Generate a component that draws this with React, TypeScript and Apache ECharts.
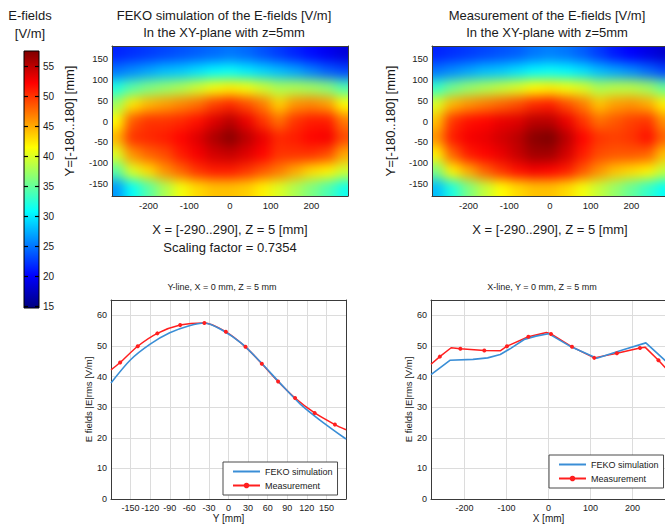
import React, { useEffect, useRef } from "react";
import * as echarts from "echarts";

const FONT = '"Liberation Sans", Arial, Helvetica, sans-serif';
const INK = "#1a1a1a";

// Colour scale of both field maps [V/m]
const fieldMin = 14.7;
const fieldMax = 57.5;
const colorbarTicks = [15, 20, 25, 30, 35, 40, 45, 50, 55];
const jet = ["#00007f", "#0000ff", "#007fff", "#00ffff", "#7fff7f", "#ffff00", "#ff7f00", "#ff0000", "#7f0000"];

// Sample grid of the E-field maps in the XY-plane, z = 5 mm [mm]
const fieldX = [-280, -240, -200, -160, -120, -80, -40, 0, 40, 80, 120, 160, 200, 240, 280];
const fieldY = [160, 120, 80, 40, 0, -40, -80, -120, -160];

// FEKO simulation, |E| [V/m], one row per fieldY
const simField = [
  [21.5, 22, 22.5, 23, 23.5, 24, 24.5, 25, 24.5, 23.5, 22.5, 21.5, 20.5, 19.5, 18.5],
  [25, 26, 27, 28, 28.5, 29.5, 30.5, 31, 30, 29, 28, 27, 25.5, 24, 23],
  [32, 34.5, 36, 37, 38, 39.5, 41, 42, 41, 39.5, 38, 38, 37.5, 36.5, 34],
  [37.5, 42.5, 44.5, 45.5, 46.5, 47.5, 49.5, 50.5, 49, 47, 43.5, 46, 46.5, 45.5, 41.5],
  [41.5, 48.5, 50, 50, 50.5, 51.5, 53.5, 55, 53, 50, 47.5, 50, 51, 51, 47],
  [44.5, 50, 50.5, 51, 52, 53.5, 55.5, 57, 55, 53, 50.5, 51, 52, 52.5, 49],
  [40, 46, 48, 49, 51, 52.5, 54, 54.5, 53.5, 52, 50, 50, 50, 49, 45],
  [34.5, 40, 43, 46, 48, 50, 51, 51, 50, 48.5, 47, 45, 43, 42, 39.5],
  [26.5, 31, 34.5, 38, 41, 43, 44, 44, 43.5, 42, 40, 38, 36, 34, 31.5],
];

// Measurement, |E| [V/m], one row per fieldY
const measField = [
  [21.5, 22, 22.5, 23, 23.5, 24, 25, 25.5, 25, 24, 22.5, 21, 20, 19, 18],
  [25, 26, 27, 28, 28.5, 29.5, 30.5, 31, 30.5, 29.5, 28, 27, 26, 24.5, 23],
  [33, 35.5, 37, 38, 39, 40, 41.5, 42, 41, 40, 38, 38.5, 38.5, 37.5, 35],
  [40, 44.5, 46, 47, 48, 49, 50.5, 51, 49, 47, 44, 45.5, 46, 45, 42],
  [44, 50, 51.5, 52, 53, 53.5, 55, 55, 53, 50, 47.5, 48.5, 49.5, 50, 46],
  [46, 51, 52.5, 53, 54, 55, 57, 57.5, 55, 52, 50, 49.5, 50, 51.5, 48],
  [42, 48, 51, 52, 53, 54.5, 56, 56, 54, 51, 49, 48.5, 48.5, 48, 44],
  [36, 42, 45, 48, 50, 51.5, 52.5, 52, 51, 48.5, 46, 44, 43, 42, 39],
  [28, 32, 36, 39, 41.5, 43, 44, 44, 43, 41, 39, 37, 35, 33, 31],
];

const mapXTicks = [-200, -100, 0, 100, 200];
const mapYTicks = [-150, -100, -50, 0, 50, 100, 150];
const scalingFactor = 0.7354;

// Y-line, X = 0 mm, Z = 5 mm
const yLineSimPos = [-180, -150, -120, -90, -60, -37, -10, 20, 50, 80, 110, 140, 180];
const yLineSimE = [37.9, 45.5, 50.6, 54.3, 56.6, 57.5, 55.2, 50.8, 44.5, 37.6, 31.0, 25.8, 19.6];
const yLineMeasPos = [-180, -166, -139, -109, -74, -37, -4, 26, 51, 76, 102, 132, 163, 180];
const yLineMeasE = [42.2, 44.6, 49.9, 54.1, 56.8, 57.5, 54.6, 49.7, 44.2, 38.4, 33.0, 28.1, 24.3, 22.6];
const yLineMeasSampled = [false, true, true, true, true, true, true, true, true, true, true, true, true, false];

// X-line, Y = 0 mm, Z = 5 mm
const xLineSimPos = [-280, -235, -180, -145, -115, -90, -58, -30, 0, 50, 115, 180, 232, 280];
const xLineSimE = [40.6, 45.3, 45.6, 46.1, 47.2, 49.2, 52.1, 53.2, 54.0, 50.0, 46.0, 48.8, 51.0, 45.0];
const xLineMeasPos = [-280, -259, -232, -210, -153, -115, -99, -48, -5, 6, 56, 109, 163, 218, 230, 262, 280];
const xLineMeasE = [44.0, 46.5, 49.4, 49.1, 48.5, 48.4, 49.9, 53.0, 54.4, 53.9, 49.7, 46.1, 47.6, 49.3, 49.6, 45.3, 42.6];
const xLineMeasSampled = [false, true, false, true, true, false, true, true, false, true, true, true, true, true, false, true, false];

const seriesNames = ["FEKO simulation", "Measurement"];

// ---- layout ----
const CB = { left: 24, top: 51, width: 15, height: 257 };
const MAP_L = { left: 112, top: 46, width: 236, height: 150 };
const MAP_R = { left: 432, top: 46, width: 236, height: 150 };
const LINE_L = { left: 111, top: 300, width: 235, height: 199 };
const LINE_R = { left: 431, top: 300, width: 235, height: 199 };
const PAD = 30;
const SOFTEN = 6;
const BLUE = "#3a8ed6";
const RED = "#ff1f1f";
const FRAME = "#3a3a3a";

function FieldMap({ rect, values }: { rect: typeof MAP_L; values: number[][] }) {
  const ref = useRef<HTMLDivElement>(null);
  useEffect(() => {
    const chart = echarts.init(ref.current!, null, { renderer: "svg" });
    const data: number[][] = [];
    fieldY.forEach((y, r) => fieldX.forEach((x, c) => data.push([x, y, values[r][c]])));
    const hx = (fieldX[1] - fieldX[0]) / 2;
    const hy = (fieldY[0] - fieldY[1]) / 2;
    chart.setOption({
      animation: false,
      backgroundColor: "transparent",
      grid: { left: PAD, top: PAD, width: rect.width, height: rect.height },
      xAxis: { type: "value", min: -290, max: 290, show: false },
      yAxis: { type: "value", min: -180, max: 180, show: false },
      visualMap: {
        show: false,
        type: "continuous",
        min: fieldMin,
        max: fieldMax,
        dimension: 2,
        seriesIndex: 0,
        inRange: { color: jet },
      },
      series: [
        {
          type: "custom",
          clip: false,
          data,
          encode: { x: 0, y: 1 },
          renderItem: (_p: any, api: any) => {
            const x = api.value(0);
            const y = api.value(1);
            const a = api.coord([x - hx, y + hy]);
            const b = api.coord([x + hx, y - hy]);
            let x0 = a[0], y0 = a[1], x1 = b[0], y1 = b[1];
            if (x === fieldX[0]) x0 -= PAD;
            if (x === fieldX[fieldX.length - 1]) x1 += PAD;
            if (y === fieldY[0]) y0 -= PAD;
            if (y === fieldY[fieldY.length - 1]) y1 += PAD;
            return {
              type: "rect",
              shape: { x: x0, y: y0, width: x1 - x0 + 0.7, height: y1 - y0 + 0.7 },
              style: { fill: api.visual("color") },
            };
          },
        },
      ],
    });
    return () => chart.dispose();
  }, []);
  return (
    <div
      style={{
        position: "absolute",
        left: rect.left,
        top: rect.top,
        width: rect.width,
        height: rect.height,
        overflow: "hidden",
      }}
    >
      <div
        ref={ref}
        style={{
          position: "absolute",
          left: -PAD,
          top: -PAD,
          width: rect.width + 2 * PAD,
          height: rect.height + 2 * PAD,
          filter: `blur(${SOFTEN}px)`,
        }}
      />
    </div>
  );
}

function boxAxis(gridIndex: number, position: string, min: number, max: number) {
  return {
    type: "value",
    gridIndex,
    position,
    min,
    max,
    axisLine: { show: true, onZero: false, lineStyle: { color: FRAME, width: 1 } },
    axisTick: { show: false },
    axisLabel: { show: false },
    splitLine: { show: false },
  };
}

function mainOption() {
  const tickFont = { fontFamily: FONT, color: INK };
  const grid = (r: typeof MAP_L) => ({ left: r.left, top: r.top, width: r.width, height: r.height });
  const split = { show: true, lineStyle: { color: "#dcdcdc", width: 1 } };
  const frame = { show: true, onZero: false, lineStyle: { color: FRAME, width: 1 } };

  const lineSeries = (xi: number, yi: number, sp: number[], se: number[], mp: number[], me: number[], sampled: boolean[], smooth: number | boolean) => [
    {
      name: seriesNames[1],
      type: "line",
      xAxisIndex: xi,
      yAxisIndex: yi,
      smooth,
      symbol: "circle",
      symbolSize: 4,
      data: mp.map((p, i) => ({ value: [p, me[i]], symbol: sampled[i] ? "circle" : "none" })),
      lineStyle: { color: RED, width: 1.5 },
      itemStyle: { color: RED },
    },
    {
      name: seriesNames[0],
      type: "line",
      xAxisIndex: xi,
      yAxisIndex: yi,
      smooth,
      symbol: "none",
      data: sp.map((p, i) => [p, se[i]]),
      lineStyle: { color: BLUE, width: 1.6 },
      itemStyle: { color: BLUE },
    },
  ];

  const legend = (left: number, top: number) => ({
    left,
    top,
    orient: "vertical",
    data: [{ name: seriesNames[0], itemStyle: { opacity: 0 } }, { name: seriesNames[1] }],
    itemWidth: 27,
    itemHeight: 7,
    itemGap: 5,
    padding: [5, 5, 5, 9],
    backgroundColor: "#ffffff",
    borderColor: "#4a4a4a",
    borderWidth: 1,
    borderRadius: 0,
    selectedMode: false,
    textStyle: { fontFamily: FONT, fontSize: 9, color: INK },
  });

  const title = (x: number, y: number, text: string, size: number) => ({
    type: "text",
    x,
    y,
    style: { text, fontFamily: FONT, fontSize: size, fill: INK, textAlign: "center", textVerticalAlign: "middle" },
  });

  const colorStops = jet
    .slice()
    .reverse()
    .map((c, i) => ({ offset: i / (jet.length - 1), color: c }));

  return {
    animation: false,
    backgroundColor: "transparent",
    textStyle: { fontFamily: FONT },
    graphic: [
      {
        type: "rect",
        z: -1,
        shape: { x: CB.left, y: CB.top, width: CB.width, height: CB.height },
        style: {
          fill: new echarts.graphic.LinearGradient(0, 0, 0, 1, colorStops),
          stroke: "#000",
          lineWidth: 1,
        },
      },
      title(30, 15, "E-fields", 13),
      title(30, 33, "[V/m]", 13),
      title(224, 15, "FEKO simulation of the E-fields [V/m]", 13),
      title(224, 32, "In the XY-plane with z=5mm", 13),
      title(547, 15, "Measurement of the E-fields [V/m]", 13),
      title(547, 32, "In the XY-plane with z=5mm", 13),
      title(222, 287, "Y-line, X = 0 mm, Z = 5 mm", 9),
      title(542, 287, "X-line, Y = 0 mm, Z = 5 mm", 9),
    ],
    legend: [legend(223, 462), legend(549, 455)],
    grid: [grid(CB), grid(MAP_L), grid(MAP_R), grid(LINE_L), grid(LINE_R)],
    xAxis: [
      { type: "value", gridIndex: 0, min: 0, max: 1, show: false },
      {
        type: "value",
        gridIndex: 1,
        min: -290,
        max: 290,
        axisLine: frame,
        axisTick: { show: false, customValues: mapXTicks },
        axisLabel: { customValues: mapXTicks, fontSize: 9.5, margin: 4, ...tickFont },
        splitLine: { show: false },
        name: `X = [-290..290], Z = 5 [mm]\nScaling factor = ${scalingFactor}`,
        nameLocation: "middle",
        nameGap: 24,
        nameTextStyle: { fontSize: 13, lineHeight: 18, color: INK, fontFamily: FONT },
      },
      boxAxis(1, "top", -290, 290),
      {
        type: "value",
        gridIndex: 2,
        min: -290,
        max: 290,
        axisLine: frame,
        axisTick: { show: false, customValues: mapXTicks },
        axisLabel: { customValues: mapXTicks, fontSize: 9.5, margin: 4, ...tickFont },
        splitLine: { show: false },
        name: "X = [-290..290], Z = 5 [mm]",
        nameLocation: "middle",
        nameGap: 24,
        nameTextStyle: { fontSize: 13, lineHeight: 18, color: INK, fontFamily: FONT },
      },
      boxAxis(2, "top", -290, 290),
      {
        type: "value",
        gridIndex: 3,
        min: -180,
        max: 180,
        interval: 30,
        axisLine: frame,
        axisTick: { show: false },
        axisLabel: { fontSize: 9, margin: 4, showMinLabel: false, showMaxLabel: false, ...tickFont },
        splitLine: split,
        name: "Y [mm]",
        nameLocation: "middle",
        nameGap: 14,
        nameTextStyle: { fontSize: 10, color: INK, fontFamily: FONT },
      },
      boxAxis(3, "top", -180, 180),
      {
        type: "value",
        gridIndex: 4,
        min: -280,
        max: 280,
        axisLine: frame,
        axisTick: { show: false, customValues: mapXTicks },
        axisLabel: { customValues: mapXTicks, fontSize: 9, margin: 4, ...tickFont },
        splitLine: split,
        name: "X [mm]",
        nameLocation: "middle",
        nameGap: 14,
        nameTextStyle: { fontSize: 10, color: INK, fontFamily: FONT },
      },
      boxAxis(4, "top", -280, 280),
    ],
    yAxis: [
      {
        type: "value",
        gridIndex: 0,
        position: "left",
        min: fieldMin,
        max: fieldMax,
        axisLine: { show: false },
        axisTick: { show: true, inside: true, length: 4, customValues: colorbarTicks, lineStyle: { color: "#000", width: 1.2 } },
        axisLabel: { show: false },
        splitLine: { show: false },
      },
      {
        type: "value",
        gridIndex: 0,
        position: "right",
        min: fieldMin,
        max: fieldMax,
        axisLine: { show: false },
        axisTick: { show: true, inside: true, length: 4, customValues: colorbarTicks, lineStyle: { color: "#000", width: 1.2 } },
        axisLabel: { customValues: colorbarTicks, fontSize: 10, margin: 4, ...tickFont },
        splitLine: { show: false },
      },
      {
        type: "value",
        gridIndex: 1,
        min: -180,
        max: 180,
        axisLine: frame,
        axisTick: { show: false, customValues: mapYTicks },
        axisLabel: { customValues: mapYTicks, fontSize: 9.5, margin: 4, ...tickFont },
        splitLine: { show: false },
        name: "Y=[-180..180] [mm]",
        nameLocation: "middle",
        nameRotate: 90,
        nameGap: 36,
        nameTextStyle: { fontSize: 13, color: INK, fontFamily: FONT },
      },
      boxAxis(1, "right", -180, 180),
      {
        type: "value",
        gridIndex: 2,
        min: -180,
        max: 180,
        axisLine: frame,
        axisTick: { show: false, customValues: mapYTicks },
        axisLabel: { customValues: mapYTicks, fontSize: 9.5, margin: 4, ...tickFont },
        splitLine: { show: false },
        name: "Y=[-180..180] [mm]",
        nameLocation: "middle",
        nameRotate: 90,
        nameGap: 35,
        nameTextStyle: { fontSize: 13, color: INK, fontFamily: FONT },
      },
      boxAxis(2, "right", -180, 180),
      {
        type: "value",
        gridIndex: 3,
        min: 0,
        max: 65,
        interval: 10,
        axisLine: frame,
        axisTick: { show: false },
        axisLabel: { fontSize: 9, margin: 4, showMaxLabel: false, ...tickFont },
        splitLine: split,
        name: "E fields |E|rms [V/m]",
        nameLocation: "middle",
        nameRotate: 90,
        nameGap: 15,
        nameTextStyle: { fontSize: 9.5, color: INK, fontFamily: FONT },
      },
      boxAxis(3, "right", 0, 65),
      {
        type: "value",
        gridIndex: 4,
        min: 0,
        max: 65,
        interval: 10,
        axisLine: frame,
        axisTick: { show: false },
        axisLabel: { fontSize: 9, margin: 4, showMaxLabel: false, ...tickFont },
        splitLine: split,
        name: "E fields |E|rms [V/m]",
        nameLocation: "middle",
        nameRotate: 90,
        nameGap: 15,
        nameTextStyle: { fontSize: 9.5, color: INK, fontFamily: FONT },
      },
      boxAxis(4, "right", 0, 65),
    ],
    series: [
      ...lineSeries(5, 6, yLineSimPos, yLineSimE, yLineMeasPos, yLineMeasE, yLineMeasSampled, 0.3),
      ...lineSeries(7, 8, xLineSimPos, xLineSimE, xLineMeasPos, xLineMeasE, xLineMeasSampled, false),
    ],
  };
}

export default function App() {
  const ref = useRef<HTMLDivElement>(null);
  useEffect(() => {
    const chart = echarts.init(ref.current!, null, { renderer: "svg" });
    chart.setOption(mainOption() as any);
    return () => chart.dispose();
  }, []);
  return (
    <div
      style={{
        position: "fixed",
        left: 0,
        top: 0,
        width: 665,
        height: 527,
        overflow: "hidden",
        background: "#ffffff",
      }}
    >
      <FieldMap rect={MAP_L} values={simField} />
      <FieldMap rect={MAP_R} values={measField} />
      <div ref={ref} style={{ position: "absolute", left: 0, top: 0, width: 680, height: 527 }} />
    </div>
  );
}
